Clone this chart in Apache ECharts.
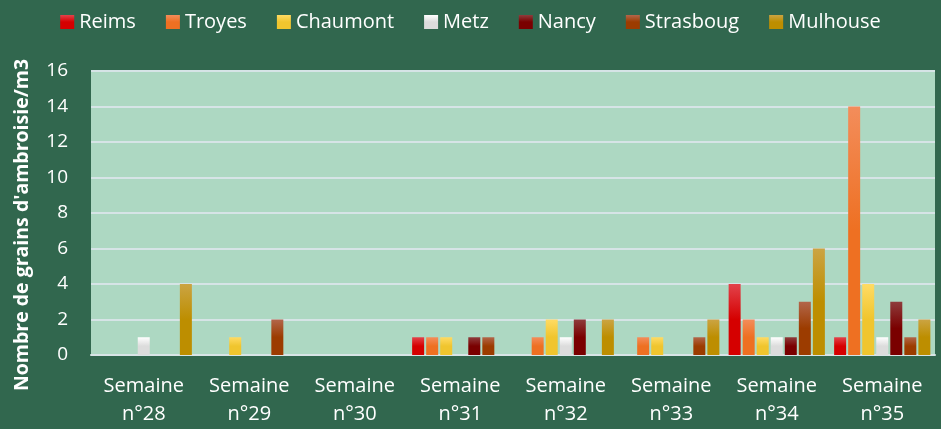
<!DOCTYPE html>
<html><head><meta charset="utf-8">
<script src="https://cdn.jsdelivr.net/npm/echarts@6/dist/echarts.min.js"></script>
<style>html,body{margin:0;padding:0;background:#31674E;}#c{width:941px;height:429px;}</style>
</head><body><div id="c"></div>
<script>
const categories = ["Semaine\nn°28","Semaine\nn°29","Semaine\nn°30","Semaine\nn°31","Semaine\nn°32","Semaine\nn°33","Semaine\nn°34","Semaine\nn°35"];
const reims      = [0,0,0,1,0,0,4,1];
const troyes     = [0,0,0,1,1,1,2,14];
const chaumont   = [0,1,0,1,2,1,1,4];
const metz       = [1,0,0,0,1,0,1,1];
const nancy      = [0,0,0,1,2,0,1,3];
const strasbourg = [0,2,0,1,0,1,3,1];
const mulhouse   = [4,0,0,0,2,2,6,2];
const seriesNames = ["Reims","Troyes","Chaumont","Metz","Nancy","Strasboug","Mulhouse"];
const seriesData = [reims,troyes,chaumont,metz,nancy,strasbourg,mulhouse];
const colorPairs = [["#E2434B","#D50000"],["#F38D5B","#EE7022"],["#FFDB64","#F0C52E"],["#FFFFFF","#DCDCDC"],["#8E3C3C","#7A0000"],["#B2664A","#9C3C00"],["#CBA443","#BD8E00"]];

const chart = echarts.init(document.getElementById('c'));
const font = "'Open Sans', 'Noto Sans', sans-serif";
chart.setOption({
  backgroundColor: '#31674E',
  animation: false,
  legend: {
    top: 7, left: 'center',
    itemWidth: 14, itemHeight: 14, itemGap: 30,
    icon: 'rect',
    textStyle: {color: '#fff', fontSize: 20, fontFamily: font},
    data: seriesNames
  },
  grid: {left: 91, right: 6, top: 71, bottom: 74, show: true, backgroundColor: '#ADD8C2', borderWidth: 0},
  xAxis: {
    type: 'category', data: categories,
    axisLine: {show: true, lineStyle: {color: '#D8E4E6', width: 2}},
    axisTick: {show: false},
    axisLabel: {color: '#fff', fontSize: 20, fontFamily: font, lineHeight: 28, margin: 17}
  },
  yAxis: {
    type: 'value', min: 0, max: 16, interval: 2,
    name: "Nombre de grains d'ambroisie/m3",
    nameLocation: 'middle', nameGap: 59, nameRotate: 90,
    nameTextStyle: {color: '#fff', fontSize: 19.5, fontWeight: 'bold', fontFamily: font, padding: [0,24,0,0]},
    axisLine: {show: false}, axisTick: {show: false},
    axisLabel: {color: '#fff', fontSize: 19, fontFamily: font, margin: 23},
    splitLine: {lineStyle: {color: '#D6E4E6', width: 2}}
  },
  series: seriesNames.map((n,i)=>({
    name: n, type: 'bar',
    data: seriesData[i].map(v => v === 0 ? null : v),
    barWidth: 12, barGap: '17%', barCategoryGap: '9%',
    itemStyle: {color: new echarts.graphic.LinearGradient(0,0,0,1,[{offset:0,color:colorPairs[i][0]},{offset:0.5,color:colorPairs[i][1]},{offset:1,color:colorPairs[i][1]}])}
  }))
});
</script></body></html>
